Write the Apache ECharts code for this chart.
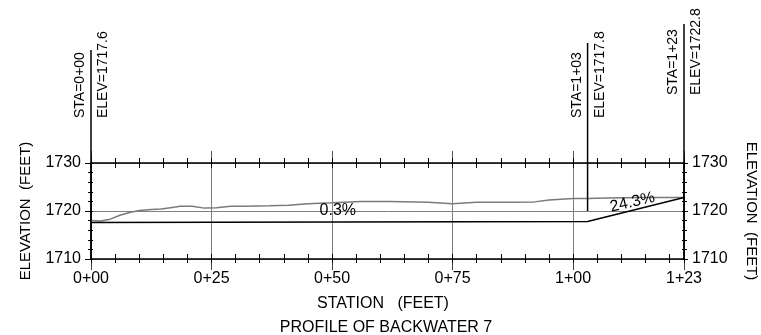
<!DOCTYPE html>
<html>
<head>
<meta charset="utf-8">
<script src="https://cdn.jsdelivr.net/npm/echarts@6/dist/echarts.min.js"></script>
<style>
  html, body { margin: 0; padding: 0; background: #fff; }
  #chart { width: 761px; height: 335px; }
</style>
</head>
<body>
<div id="chart"></div>
<script>
// Profile of backwater 7 — stations in feet, elevations in feet.
const stationMin = 0;
const stationMax = 123;
const elevMin = 1710;
const elevMax = 1730;

// Existing ground along the centreline [station, elevation]
const groundStations = [0, 2, 4, 6, 8, 10, 12.5, 14.5, 16.5, 18.5, 21, 23.5, 26, 29, 32, 37, 41, 45, 50, 56, 62, 70, 75, 80, 87, 92, 95, 100, 103, 107, 114, 123];
const groundElev = [1718.0, 1717.9, 1718.3, 1719.1, 1719.7, 1720.1, 1720.3, 1720.4, 1720.7, 1721.0, 1721.0, 1720.6, 1720.7, 1721.0, 1721.0, 1721.1, 1721.2, 1721.5, 1721.7, 1722.0, 1722.0, 1721.8, 1721.5, 1721.8, 1721.8, 1721.9, 1722.3, 1722.6, 1722.6, 1722.7, 1722.8, 1722.8];

// Proposed grade break points
const gradeStations = [0, 103, 123];
const gradeElev = [1717.6, 1717.8, 1722.8];

// Elevation each station marker line runs down to
const markerFootElev = [1710, 1720, 1710];

// Grade labels and where they sit [station, elevation]
const slopeTexts = ['0.3%', '24.3%'];
const slopeAnchors = [[51.2, 1720.0], [112.3, 1721.8]];
const slopeAngles = [0, 13];

const FONT = "'Liberation Sans', Arial, sans-serif";
const GRID_GREY = '#808080';

function fmtStation(s) {
  const whole = Math.floor(s / 100);
  const rest = Math.round(s - whole * 100);
  return whole + '+' + String(rest).padStart(2, '0');
}

const groundData = groundStations.map((s, i) => [s, groundElev[i]]);
const gradeData = gradeStations.map((s, i) => [s, gradeElev[i]]);
const markerData = gradeStations.map((s, i) => [s, markerFootElev[i], gradeElev[i]]);
const slopeData = slopeAnchors.map((p, i) => [p[0], p[1], slopeAngles[i]]);

function xAx(opts) {
  return Object.assign({
    type: 'value', min: stationMin, max: stationMax, gridIndex: 0,
    axisLine: { show: false, onZero: false },
    axisTick: { show: false },
    axisLabel: { show: false },
    splitLine: { show: false }
  }, opts);
}
function yAx(opts) {
  return Object.assign({
    type: 'value', min: elevMin, max: elevMax, gridIndex: 0,
    axisLine: { show: false, onZero: false },
    axisTick: { show: false },
    axisLabel: { show: false },
    splitLine: { show: false }
  }, opts);
}

const blackLine = { show: true, onZero: false, lineStyle: { color: '#000', width: 1.5 } };
const tick = (len, inside, color) => ({ show: true, length: len, inside: inside, lineStyle: { color: color || '#000', width: 1 } });
const elevLabel = (margin) => ({
  show: true, margin: margin, fontFamily: FONT, fontSize: 16, color: '#000',
  formatter: v => String(v)
});

const option = {
  animation: false,
  backgroundColor: '#fff',
  grid: { left: 91, right: 77, top: 163, bottom: 76, containLabel: false },
  xAxis: [
    xAx({
      position: 'bottom', interval: 25,
      axisLine: blackLine,
      axisTick: tick(11, false, '#444'),
      axisLabel: {
        show: true, margin: 12, fontFamily: FONT, fontSize: 16, color: '#000',
        showMinLabel: true, showMaxLabel: true,
        formatter: v => fmtStation(v)
      },
      splitLine: { show: true, lineStyle: { color: GRID_GREY, width: 1 } }
    }),
    xAx({ position: 'bottom', interval: 5, axisTick: tick(4, false) }),
    xAx({ position: 'bottom', interval: 5, axisTick: tick(5, true) }),
    xAx({ position: 'top', interval: 25, axisLine: blackLine, axisTick: tick(12, false, '#555') }),
    xAx({ position: 'top', interval: 5, axisTick: tick(5, false) }),
    xAx({ position: 'top', interval: 5, axisTick: tick(5, true) })
  ],
  yAxis: [
    yAx({
      position: 'left', interval: 10,
      axisLine: blackLine,
      axisTick: tick(6, false),
      axisLabel: elevLabel(10),
      splitLine: { show: true, lineStyle: { color: GRID_GREY, width: 1 } }
    }),
    yAx({ position: 'left', interval: 2, axisTick: tick(3, false) }),
    yAx({ position: 'left', interval: 2, axisTick: tick(2, true) }),
    yAx({
      position: 'right', interval: 10,
      axisLine: blackLine,
      axisTick: tick(4, false),
      axisLabel: elevLabel(8)
    }),
    yAx({ position: 'right', interval: 2, axisTick: tick(3, false) }),
    yAx({ position: 'right', interval: 2, axisTick: tick(2, true) })
  ],
  graphic: [
    {
      type: 'text', x: 26, y: 211, rotation: Math.PI / 2,
      style: { text: 'ELEVATION  (FEET)', x: 0, y: 0, align: 'center', verticalAlign: 'middle', font: '15px ' + FONT, fill: '#000' }
    },
    {
      type: 'text', x: 751, y: 211, rotation: -Math.PI / 2,
      style: { text: 'ELEVATION  (FEET)', x: 0, y: 0, align: 'center', verticalAlign: 'middle', font: '15px ' + FONT, fill: '#000' }
    },
    {
      type: 'text', x: 383, y: 304,
      style: { text: 'STATION   (FEET)', x: 0, y: 0, align: 'center', verticalAlign: 'middle', font: '16px ' + FONT, fill: '#000' }
    },
    {
      type: 'text', x: 386, y: 328,
      style: { text: 'PROFILE OF BACKWATER 7', x: 0, y: 0, align: 'center', verticalAlign: 'middle', font: '16px ' + FONT, fill: '#000' }
    }
  ],
  series: [
    {
      name: 'ground', type: 'line', xAxisIndex: 0, yAxisIndex: 0,
      data: groundData, symbol: 'none', smooth: false,
      lineStyle: { color: '#7a7a7a', width: 1.5 }, z: 3
    },
    {
      name: 'grade', type: 'line', xAxisIndex: 0, yAxisIndex: 0,
      data: gradeData, symbol: 'none',
      lineStyle: { color: '#000', width: 1.5 }, z: 4
    },
    {
      name: 'stations', type: 'custom', xAxisIndex: 0, yAxisIndex: 0,
      clip: false, z: 5, data: markerData,
      renderItem: function (params, api) {
        // Leader heights above the top of the frame, per marker
        const lineRise = [113, 120, 139];
        const textRise = [45, 45, 68];
        const i = params.dataIndex;
        const s = api.value(0);
        const foot = api.coord([s, api.value(1)]);
        const topY = api.coord([s, elevMax])[1];
        const x = foot[0];
        const font = '14px ' + FONT;
        return {
          type: 'group',
          children: [
            {
              type: 'line',
              shape: { x1: x, y1: topY - lineRise[i], x2: x, y2: foot[1] },
              style: { stroke: '#000', lineWidth: 1.5 }
            },
            {
              type: 'text', x: x - 10.5, y: topY - textRise[i], rotation: Math.PI / 2,
              style: { text: 'STA=' + fmtStation(s), x: 0, y: 0, align: 'left', verticalAlign: 'middle', font: font, fill: '#000' }
            },
            {
              type: 'text', x: x + 12.5, y: topY - textRise[i], rotation: Math.PI / 2,
              style: { text: 'ELEV=' + api.value(2).toFixed(1), x: 0, y: 0, align: 'left', verticalAlign: 'middle', font: font, fill: '#000' }
            }
          ]
        };
      }
    },
    {
      name: 'slopes', type: 'custom', xAxisIndex: 0, yAxisIndex: 0,
      clip: false, z: 6, data: slopeData,
      renderItem: function (params, api) {
        const p = api.coord([api.value(0), api.value(1)]);
        return {
          type: 'text', x: p[0], y: p[1], rotation: api.value(2) * Math.PI / 180,
          style: {
            text: slopeTexts[params.dataIndex], x: 0, y: 0,
            align: 'center', verticalAlign: 'middle',
            font: '16px ' + FONT, fill: '#000'
          }
        };
      }
    }
  ]
};

const chart = echarts.init(document.getElementById('chart'), null, { renderer: 'canvas' });
chart.setOption(option);
</script>
</body>
</html>
